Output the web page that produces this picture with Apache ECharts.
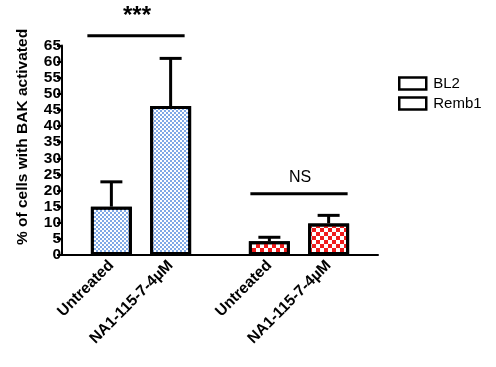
<!DOCTYPE html>
<html><head><meta charset="utf-8">
<script src="https://cdn.jsdelivr.net/npm/echarts@6/dist/echarts.min.js"></script>
<style>html,body{margin:0;padding:0;background:#fff}#c{width:496px;height:367px}</style>
</head><body><div id="c"></div>
<script>
// ---- data ----
const categories = ['Untreated', 'NA1-115-7-4µM', 'Untreated', 'NA1-115-7-4µM'];
const seriesNames = ['BL2', 'Remb1'];
const bl2Values = [15.0, 46.2, null, null];
const bl2Errors = [7.7, 14.8, null, null];
const remb1Values = [null, null, 4.3, 9.8];
const remb1Errors = [null, null, 1.2, 2.5];
const yTicks = [0, 5, 10, 15, 20, 25, 30, 35, 40, 45, 50, 55, 60, 65];
const yAxisTitle = '% of cells with BAK activated';
const sigLabels = ['***', 'NS'];
const sigLevels = [68, 19];
const sigPairs = [[0, 1], [2, 3]];

// ---- layout (slots on the category axis) ----
const SLOT_COUNT = 16;
const slotIndex = [2, 5, 10, 13];
const axisData = new Array(SLOT_COUNT).fill('');
categories.forEach((c, i) => { axisData[slotIndex[i]] = c; });
function spread(arr) {
  const out = new Array(SLOT_COUNT).fill(null);
  arr.forEach((v, i) => { out[slotIndex[i]] = v; });
  return out;
}
function errData(vals, errs) {
  const out = [];
  vals.forEach((v, i) => { if (v != null) out.push([slotIndex[i], v, errs[i]]); });
  return out;
}
function errRender(params, api) {
  const x = api.value(0), v = api.value(1), e = api.value(2);
  const p0 = api.coord([x, v]);
  const p1 = api.coord([x, v + e]);
  const hw = 11;
  return {
    type: 'group', children: [
      { type: 'line', shape: { x1: p0[0], y1: p0[1], x2: p1[0], y2: p1[1] }, style: { stroke: '#000', lineWidth: 3 } },
      { type: 'line', shape: { x1: p1[0] - hw, y1: p1[1], x2: p1[0] + hw, y2: p1[1] }, style: { stroke: '#000', lineWidth: 3 } }
    ]
  };
}
const FONT = 'Liberation Sans, Arial, sans-serif';
const chart = echarts.init(document.getElementById('c'), null, { renderer: 'canvas' });
chart.setOption({
  animation: false,
  backgroundColor: '#fff',
  grid: { left: 62, right: 118, top: 45.5, bottom: 112, containLabel: false },
  legend: {
    data: seriesNames,
    orient: 'vertical',
    left: 398, top: 76, padding: 0,
    itemWidth: 27, itemHeight: 12, itemGap: 5,
    icon: 'rect',
    itemStyle: { color: '#fff', borderColor: '#000', borderWidth: 2.5, decal: 'none' },
    textStyle: { fontFamily: FONT, fontSize: 15, color: '#000', padding: [0, 0, 0, 2] }
  },
  xAxis: {
    type: 'category',
    data: axisData,
    axisLine: { lineStyle: { color: '#000', width: 2 } },
    axisTick: { alignWithLabel: true, length: 6, lineStyle: { color: '#000', width: 2 },
      interval: (i, v) => v !== '' },
    axisLabel: { interval: (i, v) => v !== '', rotate: 45, margin: 8, color: '#000',
      fontFamily: FONT, fontWeight: 'bold', fontSize: 15.5 }
  },
  yAxis: {
    type: 'value', min: yTicks[0], max: yTicks[yTicks.length - 1], interval: yTicks[1] - yTicks[0],
    axisLine: { show: true, lineStyle: { color: '#000', width: 2 } },
    axisTick: { show: true, length: 5, lineStyle: { color: '#000', width: 2 } },
    splitLine: { show: false },
    axisLabel: { margin: 1, color: '#000', fontFamily: FONT, fontWeight: 'bold', fontSize: 15.5 }
  },
  series: [
    {
      name: seriesNames[0], type: 'bar', stack: 'all', barWidth: 41,
      data: spread(bl2Values),
      itemStyle: { color: '#ffffff', borderColor: '#000', borderWidth: 3,
        decal: { symbol: 'rect', symbolSize: 1, color: '#80a9e6', dashArrayX: [[2, 2], [0, 2, 2, 0]], dashArrayY: [2, 0] } }
    },
    {
      name: seriesNames[1], type: 'bar', stack: 'all', barWidth: 41,
      data: spread(remb1Values),
      itemStyle: { color: '#ffffff', borderColor: '#000', borderWidth: 3,
        decal: { symbol: 'rect', symbolSize: 1, color: '#f01c1c', dashArrayX: [[4, 4], [0, 4, 4, 0]], dashArrayY: [4, 0] } }
    },
    { name: 'BL2 err', type: 'custom', renderItem: errRender, data: errData(bl2Values, bl2Errors), z: 1 },
    { name: 'Remb1 err', type: 'custom', renderItem: errRender, data: errData(remb1Values, remb1Errors), z: 1 }
  ]
});

// significance brackets and y axis title
const g = [];
const sigOffsets = [[-24, 14], [-19, 19]];
sigPairs.forEach((pair, k) => {
  const a = chart.convertToPixel({ xAxisIndex: 0, yAxisIndex: 0 }, [slotIndex[pair[0]], sigLevels[k]]);
  const b = chart.convertToPixel({ xAxisIndex: 0, yAxisIndex: 0 }, [slotIndex[pair[1]], sigLevels[k]]);
  const x1 = a[0] + sigOffsets[k][0], x2 = b[0] + sigOffsets[k][1];
  g.push({ type: 'line', shape: { x1: x1, y1: a[1], x2: x2, y2: a[1] }, style: { stroke: '#000', lineWidth: 3 } });
  g.push({ type: 'text', x: (x1 + x2) / 2 + 1, y: k === 0 ? a[1] - 19 : a[1] - 8,
    style: { text: sigLabels[k], fill: '#000', fontFamily: FONT,
      fontWeight: k === 0 ? 'bold' : 'normal', fontSize: k === 0 ? 24 : 16,
      align: 'center', verticalAlign: k === 0 ? 'middle' : 'bottom' } });
});
g.push({ type: 'text', x: 23, y: 137, rotation: Math.PI / 2,
  style: { text: yAxisTitle, fill: '#000', fontFamily: FONT, fontWeight: 'bold', fontSize: 15.5,
    align: 'center', verticalAlign: 'middle' } });
chart.setOption({ graphic: g });
</script>
</body></html>
